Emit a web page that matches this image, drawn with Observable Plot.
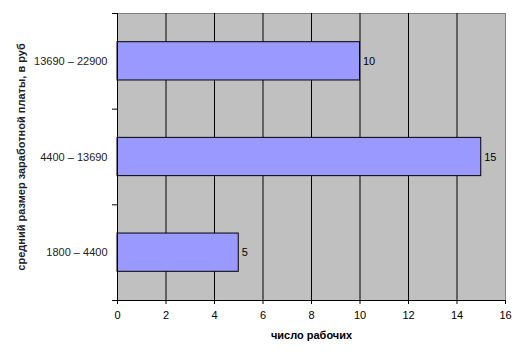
<!DOCTYPE html>
<html><head><meta charset="utf-8">
<script src="https://cdn.jsdelivr.net/npm/d3@7"></script>
<script src="https://cdn.jsdelivr.net/npm/@observablehq/plot@0.6"></script>
<style>body{margin:0;background:#fff}svg{font-family:"Liberation Sans",Arial,sans-serif}</style>
</head><body><div id="chart"></div>
<script>
const categories = ["1800 – 4400", "4400 – 13690", "13690 – 22900"];
const counts = [5, 15, 10];
const xTicks = [0, 2, 4, 6, 8, 10, 12, 14, 16];
const xTitle = "число рабочих";
const yTitle = "средний размер заработной платы, в руб";

const data = categories.map((c, i) => ({cat: c, i, v: counts[i]}));

const chart = Plot.plot({
  width: 526, height: 360,
  marginLeft: 117, marginRight: 21, marginTop: 13, marginBottom: 60,
  style: {fontFamily: "Liberation Sans, Arial, sans-serif", fontSize: "11px", color: "#000", background: "#fff"},
  x: {domain: [0, 16]},
  y: {domain: [0, categories.length]},
  marks: [
    Plot.frame({fill: "#C0C0C0", stroke: "#808080"}),
    Plot.ruleX(xTicks.filter(t => t > 0 && t < 16), {stroke: "#000", strokeWidth: 1, strokeOpacity: 1}),
    Plot.rectX(data, {x1: 0, x2: "v", y1: d => d.i + 0.3, y2: d => d.i + 0.7, fill: "#9999FF", stroke: "#000", strokeWidth: 1}),
    Plot.text(data, {x: "v", y: d => d.i + 0.5, text: d => String(d.v), textAnchor: "start", dx: 3, fill: "#000", fontSize: 11}),
    Plot.ruleX([0], {stroke: "#000"}),
    Plot.ruleY([0], {stroke: "#000"}),
    Plot.axisX({ticks: xTicks, tickSize: 4, tickPadding: 7, label: xTitle, labelAnchor: "center", labelArrow: "none", labelOffset: 38, fontSize: 11, stroke: "#000"}),
    Plot.axisY({ticks: [0, 1, 2, 3], tickFormat: () => "", tickSize: 5, label: null, stroke: "#000"}),
    Plot.axisY({ticks: categories.map((c, i) => i + 0.5), tickFormat: d => categories[Math.floor(d)], tickSize: 0, tickPadding: 10, label: yTitle, labelAnchor: "center", labelArrow: "none", labelOffset: 100, fill: "#222"})
  ]
});
d3.select(chart).selectAll("[aria-label='x-axis label'] text, [aria-label='y-axis label'] text").style("font-weight", "bold");
document.getElementById("chart").appendChild(chart);
</script></body></html>
